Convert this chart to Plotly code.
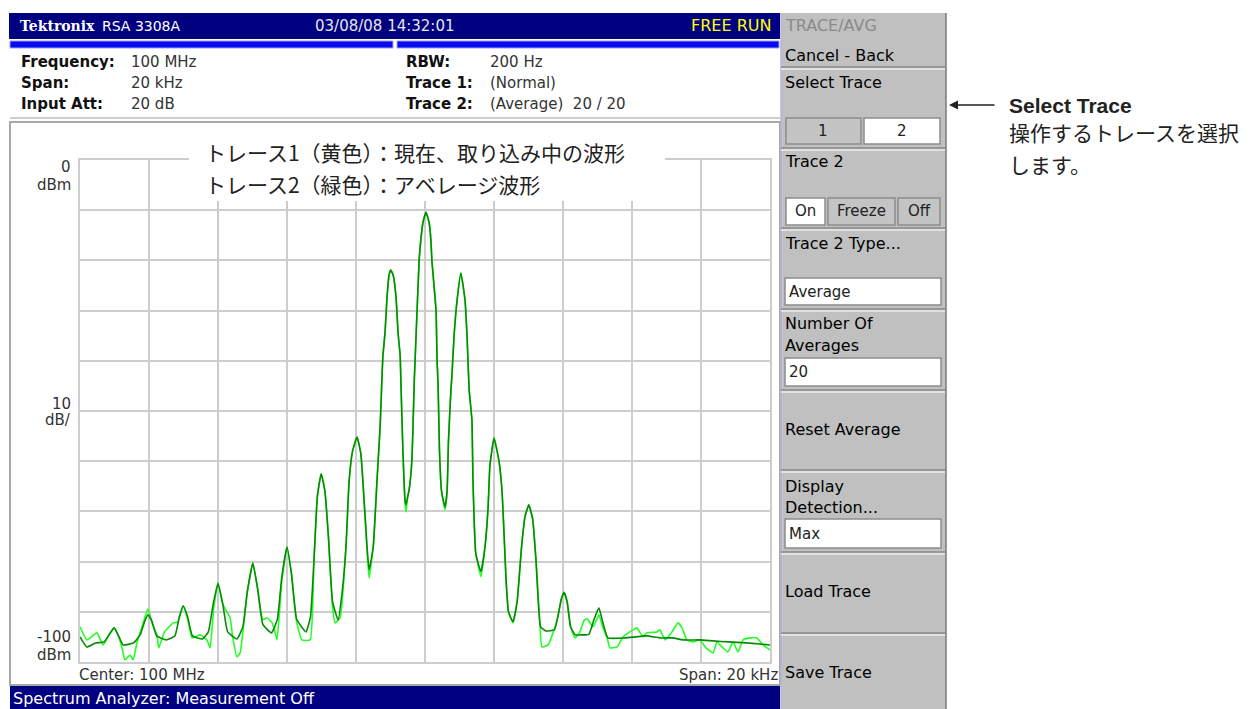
import plotly.graph_objects as go

W, H = 1254, 709

# ---------------- data ----------------
# frequency offset from center (kHz), level (dBm)
DARK_KHZ = [-10.0, -9.80, -9.55, -9.30, -9.15, -9.01, -8.88, -8.75, -8.45, -8.25, -8.12, -8.03, -7.92, -7.78,
            -7.50, -7.25, -7.12, -7.01, -6.88, -6.74, -6.45, -6.28, -6.14, -6.00, -5.86, -5.72, -5.45, -5.28,
            -5.15, -4.99, -4.85, -4.70, -4.45, -4.28, -4.15, -4.00, -3.87, -3.72, -3.45, -3.32, -3.22, -3.12,
            -3.01, -2.90, -2.80, -2.68, -2.52, -2.40, -2.29, -2.20, -2.10, -1.97, -1.86, -1.80, -1.68, -1.62,
            -1.50, -1.39, -1.30, -1.25, -1.22, -1.16, -1.10, -1.04, -0.99, -0.92, -0.84, -0.78, -0.72, -0.70,
            -0.64, -0.58, -0.55, -0.50, -0.46, -0.38, -0.31, -0.23, -0.17, -0.12, -0.06, 0.03, 0.12, 0.17,
            0.20, 0.32, 0.35, 0.38, 0.42, 0.48, 0.58, 0.64, 0.68, 0.75, 0.78, 0.84, 0.93, 1.04, 1.16, 1.22,
            1.28, 1.36, 1.39, 1.47, 1.62, 1.74, 1.83, 1.88, 2.00, 2.14, 2.23, 2.29, 2.35, 2.42, 2.55, 2.67,
            2.80, 2.90, 3.01, 3.12, 3.22, 3.35, 3.50, 3.75, 3.85, 3.95, 4.03, 4.12, 4.22, 4.35, 4.50, 4.75,
            4.90, 5.04, 5.15, 5.30, 5.80, 6.43, 6.80, 7.16, 7.50, 7.97, 8.35, 8.80, 9.30, 9.70, 10.0]
DARK_DBM = [-95.0, -97.0, -96.2, -96.0, -94.5, -93.2, -94.8, -96.6, -96.2, -94.5, -91.8, -90.6, -91.8, -94.8,
            -95.6, -94.8, -91.0, -88.8, -91.0, -94.8, -95.4, -94.0, -88.5, -84.3, -88.5, -94.0, -95.4, -93.0,
            -86.0, -80.3, -85.5, -92.5, -94.2, -91.5, -83.0, -77.1, -82.5, -91.5, -94.0, -91.0, -80.0, -67.0,
            -62.5, -66.0, -75.0, -88.0, -91.6, -86.0, -77.0, -64.0, -58.0, -55.2, -58.5, -64.0, -77.0, -81.7,
            -77.0, -63.7, -53.0, -43.8, -39.0, -34.5, -27.3, -22.8, -21.9, -23.0, -27.3, -34.5, -39.0, -43.8,
            -58.0, -67.7, -68.7, -67.0, -65.7, -59.8, -43.8, -30.0, -20.0, -15.9, -12.5, -10.4, -12.5, -15.9,
            -20.0, -30.0, -40.0, -45.0, -58.0, -66.0, -69.1, -66.0, -56.0, -46.0, -43.0, -35.3, -27.9, -22.5,
            -27.9, -35.3, -45.8, -51.8, -63.7, -78.3, -82.0, -77.0, -69.0, -61.0, -55.4, -59.8, -65.7, -74.3,
            -83.7, -90.0, -92.0, -88.0, -77.0, -71.0, -68.7, -71.5, -80.0, -93.0, -93.8, -93.6, -91.0, -87.5,
            -86.1, -88.0, -93.0, -94.6, -94.6, -94.5, -91.5, -89.2, -92.0, -95.2, -95.2, -94.8, -95.2, -95.2,
            -95.6, -95.6, -95.8, -96.0, -96.2, -96.4, -96.6]

LIGHT_KHZ = [-10.0, -9.80, -9.51, -9.33, -9.15, -9.01, -8.88, -8.78, -8.70, -8.55, -8.46, -8.35, -8.18, -8.03,
             -7.90, -7.77, -7.72, -7.55, -7.30, -7.16, -7.01, -6.88, -6.75, -6.52, -6.32, -6.23, -6.12, -6.00,
             -5.86, -5.65, -5.57, -5.45, -5.36, -5.15, -4.99, -4.85, -4.70, -4.58, -4.43, -4.35, -4.29, -4.15,
             -4.00, -3.87, -3.72, -3.57, -3.33, -3.22, -3.12, -3.01, -2.90, -2.80, -2.68, -2.61, -2.46, -2.29,
             -2.20, -2.10, -1.97, -1.86, -1.80, -1.68, -1.62, -1.50, -1.39, -1.30, -1.25, -1.22, -1.16, -1.10,
             -1.04, -0.99, -0.92, -0.84, -0.78, -0.72, -0.70, -0.64, -0.58, -0.55, -0.50, -0.46, -0.38, -0.31,
             -0.23, -0.17, -0.12, -0.06, 0.03, 0.12, 0.17, 0.20, 0.32, 0.35, 0.38, 0.42, 0.48, 0.58, 0.64,
             0.68, 0.75, 0.78, 0.84, 0.93, 1.04, 1.16, 1.22, 1.28, 1.36, 1.39, 1.47, 1.62, 1.74, 1.83, 1.88,
             2.00, 2.14, 2.23, 2.29, 2.35, 2.42, 2.55, 2.67, 2.80, 2.90, 3.01, 3.12, 3.22, 3.32, 3.39, 3.57,
             3.71, 3.85, 3.95, 4.03, 4.12, 4.22, 4.35, 4.49, 4.62, 4.70, 4.87, 5.04, 5.15, 5.28, 5.36, 5.57,
             5.74, 6.03, 6.14, 6.32, 6.43, 6.72, 6.81, 6.96, 7.16, 7.33, 7.45, 7.59, 7.77, 7.97, 8.12, 8.35,
             8.46, 8.64, 8.78, 8.93, 9.07, 9.22, 9.42, 9.62, 9.80, 10.0]
LIGHT_DBM = [-93.0, -95.6, -94.2, -96.6, -94.5, -93.2, -95.0, -97.2, -99.6, -98.6, -99.6, -96.2, -92.5, -89.4,
             -92.5, -94.6, -97.2, -94.0, -92.2, -92.0, -88.8, -91.5, -95.2, -94.6, -95.6, -97.2, -89.0, -84.3,
             -88.5, -91.2, -95.2, -99.0, -98.2, -86.0, -80.3, -85.5, -91.6, -91.2, -92.2, -94.0, -95.6, -84.0,
             -77.1, -82.5, -92.0, -95.6, -95.6, -80.0, -67.0, -62.5, -66.0, -75.0, -89.0, -92.2, -91.2, -77.0,
             -64.0, -58.0, -55.2, -58.5, -64.0, -78.0, -83.3, -77.0, -63.7, -53.0, -43.8, -39.0, -34.5, -27.3,
             -22.8, -21.9, -23.0, -27.3, -34.5, -39.0, -43.8, -58.0, -68.0, -70.1, -67.0, -65.7, -59.8, -43.8,
             -30.0, -20.0, -15.9, -12.5, -10.4, -12.5, -15.9, -20.0, -30.0, -40.0, -45.0, -58.0, -66.0, -69.7,
             -66.0, -56.0, -46.0, -43.0, -35.3, -27.9, -22.5, -27.9, -35.3, -45.8, -51.8, -63.7, -78.3, -83.0,
             -77.0, -69.0, -61.0, -55.4, -59.8, -65.7, -74.3, -83.7, -90.0, -92.2, -88.0, -77.0, -71.0, -68.7,
             -71.5, -80.0, -91.0, -97.0, -96.6, -94.2, -91.0, -87.5, -86.1, -88.0, -93.0, -95.2, -94.0, -91.6,
             -91.4, -93.0, -90.6, -93.0, -95.2, -97.2, -97.0, -95.0, -93.6, -93.2, -95.0, -94.2, -94.0, -93.6,
             -95.6, -94.0, -92.2, -93.2, -95.6, -96.0, -95.6, -97.0, -98.2, -96.0, -97.2, -98.0, -96.0, -98.0,
             -95.6, -95.2, -95.2, -96.6, -97.6]

X_GRID_KHZ = [-10, -8, -6, -4, -2, 0, 2, 4, 6, 8, 10]
Y_GRID_DBM = [0, -10, -20, -30, -40, -50, -60, -70, -80, -90, -100]

LEGEND_LINES = ["トレース1（黄色）：現在、取り込み中の波形", "トレース2（緑色）：アベレージ波形"]
INFO_LEFT = [("Frequency:", "100 MHz"), ("Span:", "20 kHz"), ("Input Att:", "20 dB")]
INFO_RIGHT = [("RBW:", "200 Hz"), ("Trace 1:", "(Normal)"), ("Trace 2:", "(Average)  20 / 20")]

# ---------------- helpers ----------------
UI = "DejaVu Sans"
JP = "Noto Sans CJK JP"


def px(x):
    return x / W


def py(y):
    return 1 - y / H


shapes = []
annots = []


def rect(x0, y0, x1, y1, fill, line=None, lw=0, layer="below"):
    shapes.append(dict(type="rect", xref="paper", yref="paper", x0=px(x0), x1=px(x1), y0=py(y1), y1=py(y0),
                       fillcolor=fill, line=dict(color=line or fill, width=lw), layer=layer))


def hline(x0, x1, y, color, lw=1, layer="below"):
    shapes.append(dict(type="line", xref="paper", yref="paper", x0=px(x0), x1=px(x1), y0=py(y), y1=py(y),
                       line=dict(color=color, width=lw), layer=layer))


def vline(x, y0, y1, color, lw=1, layer="below"):
    shapes.append(dict(type="line", xref="paper", yref="paper", x0=px(x), x1=px(x), y0=py(y0), y1=py(y1),
                       line=dict(color=color, width=lw), layer=layer))


def txt(x, y, s, size=15, color="black", anchor="left", family=UI, vanchor="middle"):
    annots.append(dict(x=px(x), y=py(y), xref="paper", yref="paper", text=s, showarrow=False,
                       xanchor=anchor, yanchor=vanchor, borderpad=0,
                       font=dict(size=size, color=color, family=family)))


# ---------------- figure ----------------
fig = go.Figure()
fig.add_trace(go.Scatter(x=LIGHT_KHZ, y=LIGHT_DBM, mode="lines",
                         line=dict(color="#22ff22", width=1.6, shape="spline", smoothing=0.4),
                         showlegend=False, hoverinfo="skip"))
fig.add_trace(go.Scatter(x=DARK_KHZ, y=DARK_DBM, mode="lines",
                         line=dict(color="#078a07", width=1.6, shape="spline", smoothing=0.4),
                         showlegend=False, hoverinfo="skip"))

# header bar
rect(9, 13, 780, 39, "#000080")
txt(19, 26, "<b>Tektronix</b>", 14, "white", family="DejaVu Serif")
txt(101, 26, "RSA 3308A", 14, "white")
txt(385, 26, "03/08/08 14:32:01", 15, "#e6e6e6", anchor="center")
txt(772, 26, "FREE RUN", 16, "#ffff00", anchor="right")
# blue stripe
rect(10, 41, 393, 48, "#0a0af0", "#9aa0ff", 1)
rect(397, 41, 779, 48, "#0a0af0", "#9aa0ff", 1)

# info block
for i, (lab, val) in enumerate(INFO_LEFT):
    y = 62 + 21 * i
    txt(20, y, "<b>" + lab + "</b>", 15, "#111111")
    txt(130, y, val, 15, "#333333")
for i, (lab, val) in enumerate(INFO_RIGHT):
    y = 62 + 21 * i
    txt(405, y, "<b>" + lab + "</b>", 15, "#111111")
    txt(489, y, val, 15, "#333333")
hline(10, 780, 118, "#bdbdbd", 1.5)

# plot panel border
rect(10, 122, 780, 685, "white", "#a8a8a8", 2)

# legend box (covers grid)
rect(189, 136, 665, 201, "white", layer="above")
txt(204, 168.5, LEGEND_LINES[0], 21, "#222222", family=JP, vanchor="bottom")
txt(204, 168.5, LEGEND_LINES[1], 21, "#222222", family=JP, vanchor="top")

# y-axis labels
txt(72, 167, "0", 15, "#333333", anchor="right")
txt(72, 185, "dBm", 15, "#333333", anchor="right")
txt(72, 404, "10", 15, "#333333", anchor="right")
txt(72, 420, "dB/", 15, "#333333", anchor="right")
txt(72, 637, "-100", 15, "#333333", anchor="right")
txt(72, 655, "dBm", 15, "#333333", anchor="right")
txt(78, 675, "Center: 100 MHz", 15, "#333333")
txt(779, 675, "Span: 20 kHz", 15, "#333333", anchor="right")

# status bar
rect(10, 686, 780, 709, "#000080")
txt(12, 698, "Spectrum Analyzer: Measurement Off", 16, "white")

# right panel
rect(781, 13, 946, 709, "#c0c0c0")
vline(781, 13, 709, "#b4b4e0", 1.5)
vline(946, 13, 709, "#7a7a7a", 1.5)
for ys in [67, 148, 228, 309, 390, 470, 552, 633]:
    hline(781, 945, ys, "#8a8a8a", 1.5)
    hline(781, 945, ys + 2, "#ececec", 1.5)

txt(784, 26, "TRACE/AVG", 16, "#8a8a8a")
txt(784, 56, "Cancel - Back", 16, "black")
txt(784, 82, "Select Trace", 16, "black")
rect(786, 118, 861, 144, "#c4c4c4", "#8c8c8c", 1.5)
rect(864, 118, 940, 144, "white", "#8c8c8c", 1.5)
txt(823, 131, "1", 15, "#222222", anchor="center")
txt(902, 131, "2", 15, "#222222", anchor="center")
txt(784, 162, "Trace 2", 16, "black")
rect(786, 198, 825, 225, "white", "#8c8c8c", 1.5)
rect(828, 198, 895, 225, "#c4c4c4", "#8c8c8c", 1.5)
rect(898, 198, 940, 225, "#c4c4c4", "#8c8c8c", 1.5)
txt(805, 211, "On", 15, "#222222", anchor="center")
txt(861, 211, "Freeze", 15, "#222222", anchor="center")
txt(919, 211, "Off", 15, "#222222", anchor="center")
txt(784, 243, "Trace 2 Type...", 16, "black")
rect(785, 278, 941, 305, "white", "#8c8c8c", 1.5)
txt(788, 292, "Average", 15, "#222222")
txt(784, 324, "Number Of", 16, "black")
txt(784, 345, "Averages", 16, "black")
rect(785, 358, 941, 386, "white", "#8c8c8c", 1.5)
txt(788, 372, "20", 15, "#222222")
txt(784, 430, "Reset Average", 16, "black")
txt(784, 486, "Display", 16, "black")
txt(784, 507, "Detection...", 16, "black")
rect(785, 519, 941, 548, "white", "#8c8c8c", 1.5)
txt(788, 534, "Max", 15, "#222222")
txt(784, 591, "Load Trace", 16, "black")
txt(784, 672, "Save Trace", 16, "black")

# callout
annots.append(dict(x=px(949), y=py(105), xref="paper", yref="paper", text="", showarrow=True,
                   ax=47, ay=0, arrowhead=2, arrowsize=1.2, arrowwidth=1.5, arrowcolor="#222222"))
txt(1008, 105, "<b>Select Trace</b>", 21, "#222222", family="Liberation Sans")
txt(1008, 147.5, "操作するトレースを選択", 21, "#222222", family=JP, vanchor="bottom")
txt(1008, 147.5, "します。", 21, "#222222", family=JP, vanchor="top")

axis_common = dict(showticklabels=False, ticks="", showgrid=True, gridcolor="#cdcdcd", gridwidth=1.5,
                   zeroline=False, showline=True, mirror=True, linecolor="#cdcdcd", linewidth=1.5,
                   fixedrange=True)
fig.update_layout(
    width=W, height=H, margin=dict(l=0, r=0, t=0, b=0),
    paper_bgcolor="white", plot_bgcolor="white",
    xaxis=dict(domain=[px(80), px(770)], range=[-10, 10], tickmode="array", tickvals=X_GRID_KHZ,
               **axis_common),
    yaxis=dict(domain=[py(662), py(160)], range=[-100, 0], tickmode="array", tickvals=Y_GRID_DBM,
               **axis_common),
    shapes=shapes, annotations=annots, showlegend=False,
)
fig.write_html("out.html", config={"displayModeBar": False},
               post_script="document.body.style.margin='0px';document.body.style.overflow='hidden';")
